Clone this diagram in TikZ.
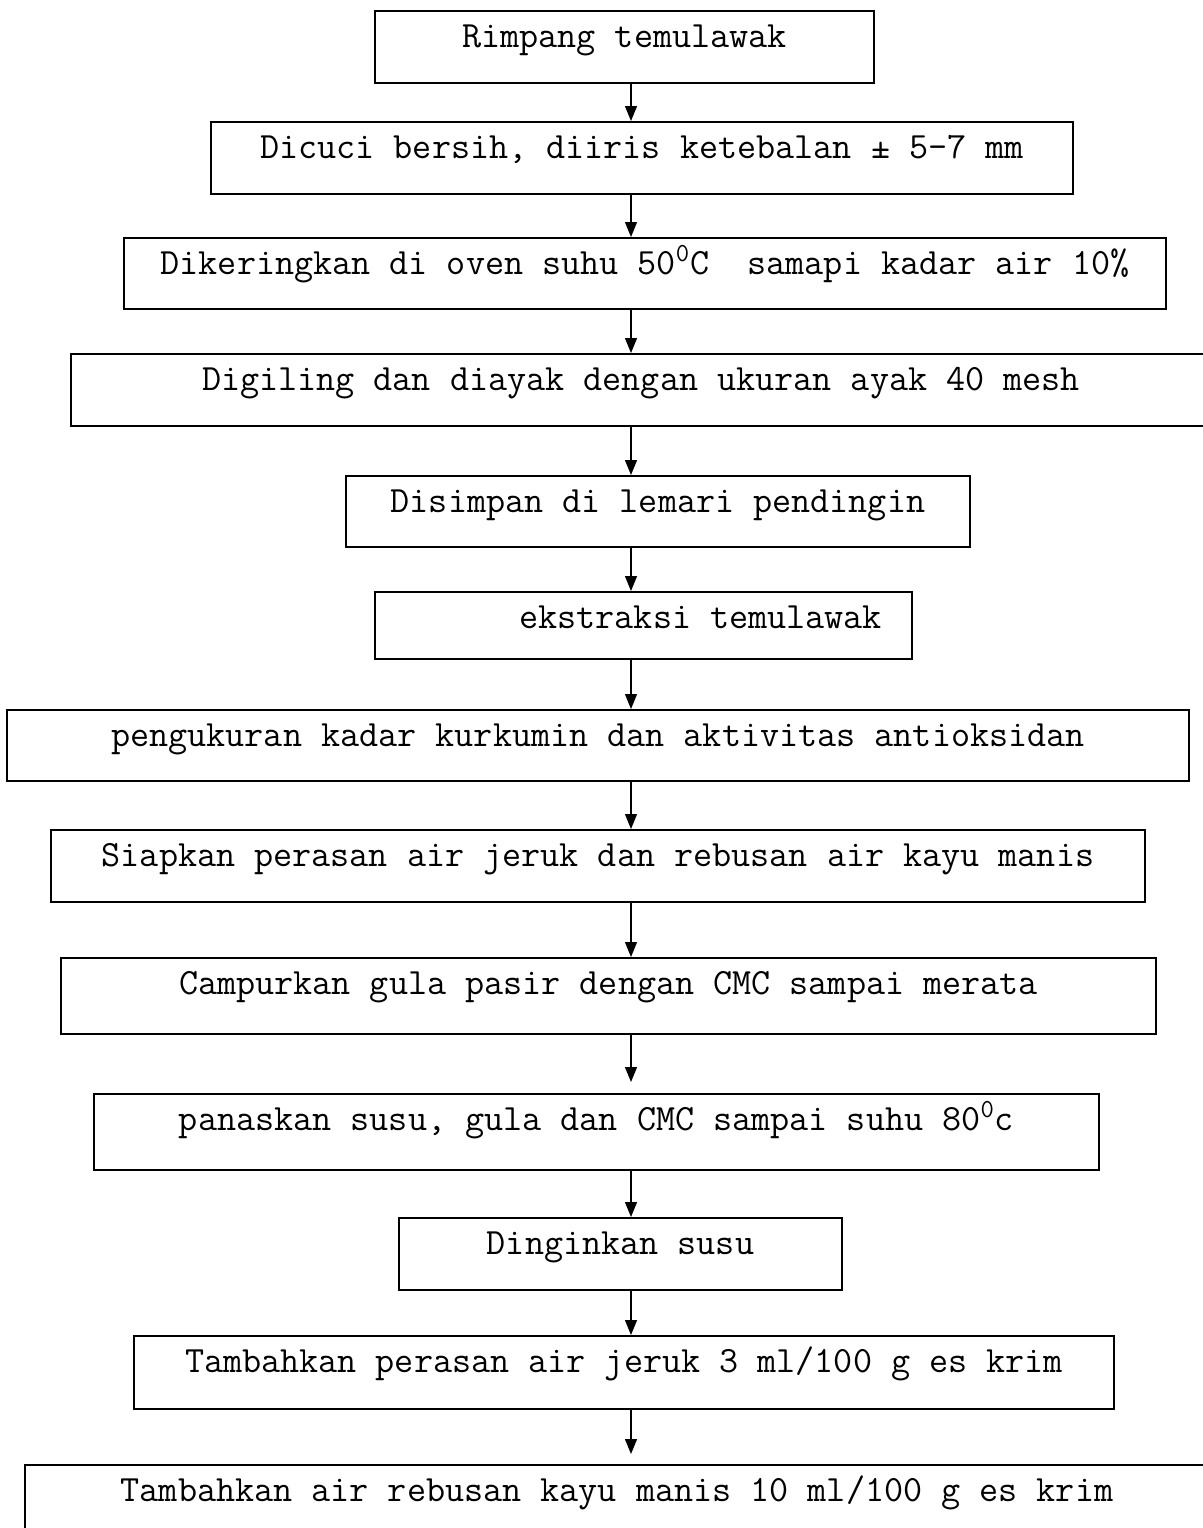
\documentclass[tikz,border=0pt]{standalone}
\usepackage{fontspec}
\usetikzlibrary{arrows.meta}
\begin{document}
\begin{tikzpicture}[x=0.5pt, y=-0.5pt,
    step box/.style = {draw, line width=1pt, anchor=north west, inner xsep=0pt, inner ysep=0pt,
                       text height=18pt, text depth=18pt, font=\ttfamily\fontsize{18.53}{21}\selectfont},
    flow/.style = {-{Triangle[length=7.5pt, width=6pt]}, line width=0.65pt}]
    \useasboundingbox (0,0) rectangle (1203,1528);
    \coordinate (spine) at (631,0);
    \node (rimpang) at (374,10) [step box, minimum width=249.5pt] {Rimpang temulawak};
    \node (cuci) at (210,121) [step box, minimum width=431pt] {Dicuci bersih, diiris ketebalan ± 5-7 mm};
    \node (kering) at (123,237) [step box, minimum width=521pt, text depth=17.5pt] {Dikeringkan di oven suhu 50\textsuperscript{0}C~~samapi kadar air 10\%};
    \node (giling) at (70,353) [step box, minimum width=570pt] {Digiling dan diayak dengan ukuran ayak 40 mesh};
    \node (simpan) at (345,475) [step box, minimum width=312pt, text depth=17.5pt] {Disimpan di lemari pendingin};
    \node (ekstrak) at (374,591) [step box, minimum width=268.5pt, text depth=15.5pt] {~~~~~~ekstraksi temulawak};
    \node (ukur) at (6,709) [step box, minimum width=591pt, text depth=17.5pt] {pengukuran kadar kurkumin dan aktivitas antioksidan};
    \node (siap) at (50,829) [step box, minimum width=547pt] {Siapkan perasan air jeruk dan rebusan air kayu manis};
    \node (campur) at (60,957) [step box, minimum width=547.5pt, text depth=20pt] {Campurkan gula pasir dengan CMC sampai merata};
    \node (panas) at (93,1093) [step box, minimum width=502.5pt, text depth=20pt] {panaskan susu, gula dan CMC sampai suhu 80\textsuperscript{0}c};
    \node (dingin) at (398,1217) [step box, minimum width=221.5pt] {Dinginkan susu};
    \node (jeruk) at (133,1335) [step box, minimum width=490pt, text depth=18.5pt] {Tambahkan perasan air jeruk 3 ml/100 g es krim};
    \node (kayu) at (24,1464) [step box, minimum width=592pt] {Tambahkan air rebusan kayu manis 10 ml/100 g es krim};
    \draw[flow] (rimpang.south -| spine) -- (cuci.north -| spine);
    \draw[flow] (cuci.south -| spine) -- (kering.north -| spine);
    \draw[flow] (kering.south -| spine) -- (giling.north -| spine);
    \draw[flow] (giling.south -| spine) -- (simpan.north -| spine);
    \draw[flow] (simpan.south -| spine) -- (ekstrak.north -| spine);
    \draw[flow] (ekstrak.south -| spine) -- (ukur.north -| spine);
    \draw[flow] (ukur.south -| spine) -- (siap.north -| spine);
    \draw[flow] (siap.south -| spine) -- (campur.north -| spine);
    \draw[flow] (campur.south -| spine) -- ([yshift=5.5pt]panas.north -| spine);
    \draw[flow] (panas.south -| spine) -- (dingin.north -| spine);
    \draw[flow] (dingin.south -| spine) -- (jeruk.north -| spine);
    \draw[flow] (jeruk.south -| spine) -- ([yshift=5pt]kayu.north -| spine);
\end{tikzpicture}
\end{document}
